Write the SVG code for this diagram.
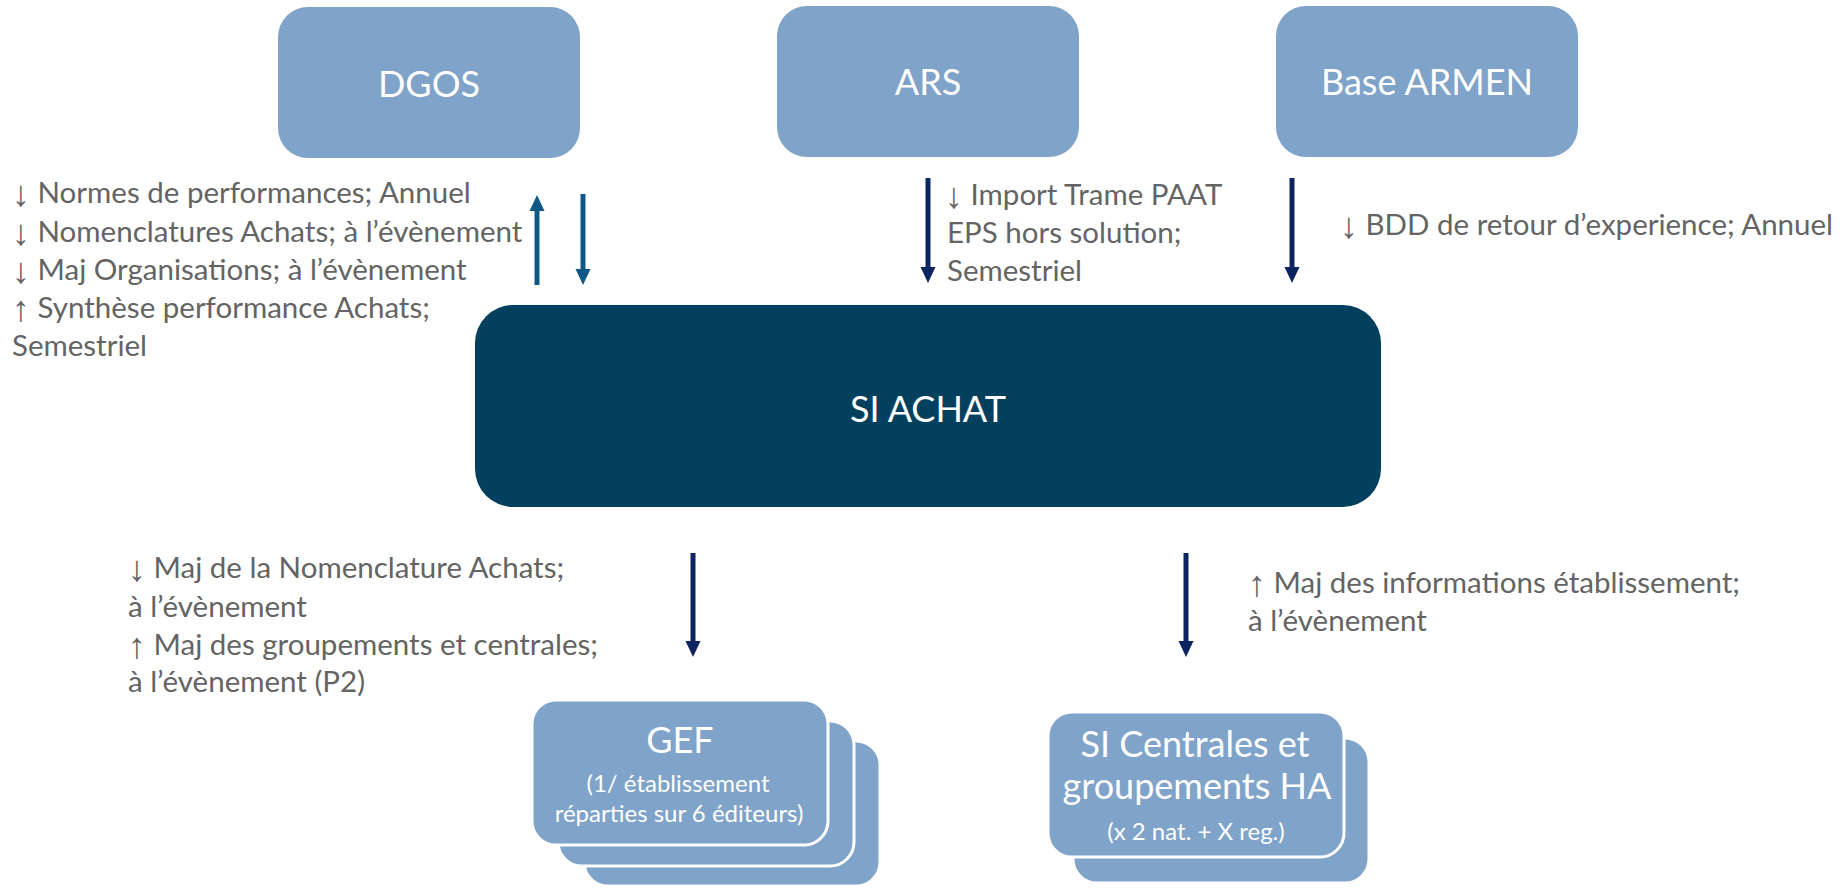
<svg xmlns="http://www.w3.org/2000/svg" width="1845" height="889" viewBox="0 0 1845 889">
<style>
.box{fill:#7FA3C9}
.stk{fill:#7FA3C9;stroke:#ffffff;stroke-width:3}
.core{fill:#02405E}
.t{font-family:Lato,"Liberation Sans",sans-serif;fill:#ffffff;text-anchor:middle}
.big{font-size:36px}
.sm{font-size:24px}
.lbl{font-family:Lato,"Liberation Sans",sans-serif;font-size:29.5px;fill:#646464}
.ar{font-family:"Liberation Sans",sans-serif;font-size:36px;baseline-shift:-3px}
.teal{stroke:#105986;stroke-width:5;fill:none}
.navy{stroke:#0C2461;stroke-width:5;fill:none}
</style>
<defs>
<marker id="hT" markerUnits="userSpaceOnUse" markerWidth="16" markerHeight="16" viewBox="0 0 16 16" refX="4" refY="8" orient="auto"><path d="M0,0.5 L16,8 L0,15.5 z" fill="#105986"/></marker>
<marker id="hN" markerUnits="userSpaceOnUse" markerWidth="16" markerHeight="16" viewBox="0 0 16 16" refX="4" refY="8" orient="auto"><path d="M0,0.5 L16,8 L0,15.5 z" fill="#0C2461"/></marker>
</defs>
<rect width="1845" height="889" fill="#ffffff"/>

<g id="node-dgos">
<rect class="box" x="278" y="7" width="302" height="151" rx="30"/>
<text class="t big" x="429" y="97">DGOS</text>
</g>
<g id="node-ars">
<rect class="box" x="777" y="6" width="302" height="151" rx="30"/>
<text class="t big" x="928" y="95">ARS</text>
</g>
<g id="node-armen">
<rect class="box" x="1276" y="6" width="302" height="151" rx="30"/>
<text class="t big" x="1427" y="95">Base ARMEN</text>
</g>
<g id="node-siachat">
<rect class="core" x="475" y="305" width="906" height="202" rx="38"/>
<text class="t big" x="928" y="422">SI ACHAT</text>
</g>
<g id="node-gef">
<rect class="stk" x="584" y="741" width="296" height="145" rx="24"/>
<rect class="stk" x="558" y="721" width="296" height="145" rx="24"/>
<rect class="stk" x="532" y="700" width="296" height="145" rx="24"/>
<text class="t big" x="680" y="753">GEF</text>
<text class="t sm" x="678" y="792">(1/ établissement</text>
<text class="t sm" x="679" y="822">réparties sur 6 éditeurs)</text>
</g>
<g id="node-centrales">
<rect class="stk" x="1073" y="738" width="296" height="145" rx="24"/>
<rect class="stk" x="1048" y="712" width="296" height="145" rx="24"/>
<text class="t big" x="1195" y="757">SI Centrales et</text>
<text class="t big" x="1197" y="799">groupements HA</text>
<text class="t sm" x="1196" y="840">(x 2 nat. + X reg.)</text>
</g>

<g id="connectors">
<line class="teal" x1="537" y1="285" x2="537" y2="207" marker-end="url(#hT)"/>
<line class="teal" x1="583" y1="194" x2="583" y2="273" marker-end="url(#hT)"/>
<line class="navy" x1="928" y1="178" x2="928" y2="271" marker-end="url(#hN)"/>
<line class="navy" x1="1292" y1="178" x2="1292" y2="271" marker-end="url(#hN)"/>
<line class="navy" x1="693" y1="553" x2="693" y2="645" marker-end="url(#hN)"/>
<line class="navy" x1="1186" y1="553" x2="1186" y2="645" marker-end="url(#hN)"/>
</g>

<g id="labels">
<text class="lbl" x="12" y="203"><tspan class="ar">↓</tspan> Normes de performances; Annuel</text>
<text class="lbl" x="12" y="242"><tspan class="ar">↓</tspan> Nomenclatures Achats; à l’évènement</text>
<text class="lbl" x="12" y="280"><tspan class="ar">↓</tspan> Maj Organisations; à l’évènement</text>
<text class="lbl" x="12" y="318"><tspan class="ar">↑</tspan> Synthèse performance Achats;</text>
<text class="lbl" x="12" y="356">Semestriel</text>

<text class="lbl" x="945" y="205"><tspan class="ar">↓</tspan> Import Trame PAAT</text>
<text class="lbl" x="947" y="243">EPS hors solution;</text>
<text class="lbl" x="947" y="281">Semestriel</text>

<text class="lbl" x="1340" y="235"><tspan class="ar">↓</tspan> BDD de retour d’experience; Annuel</text>

<text class="lbl" x="128" y="578"><tspan class="ar">↓</tspan> Maj de la Nomenclature Achats;</text>
<text class="lbl" x="128" y="617">à l’évènement</text>
<text class="lbl" x="128" y="655"><tspan class="ar">↑</tspan> Maj des groupements et centrales;</text>
<text class="lbl" x="128" y="692">à l’évènement (P2)</text>

<text class="lbl" x="1248" y="593"><tspan class="ar">↑</tspan> Maj des informations établissement;</text>
<text class="lbl" x="1248" y="631">à l’évènement</text>
</g>
</svg>
